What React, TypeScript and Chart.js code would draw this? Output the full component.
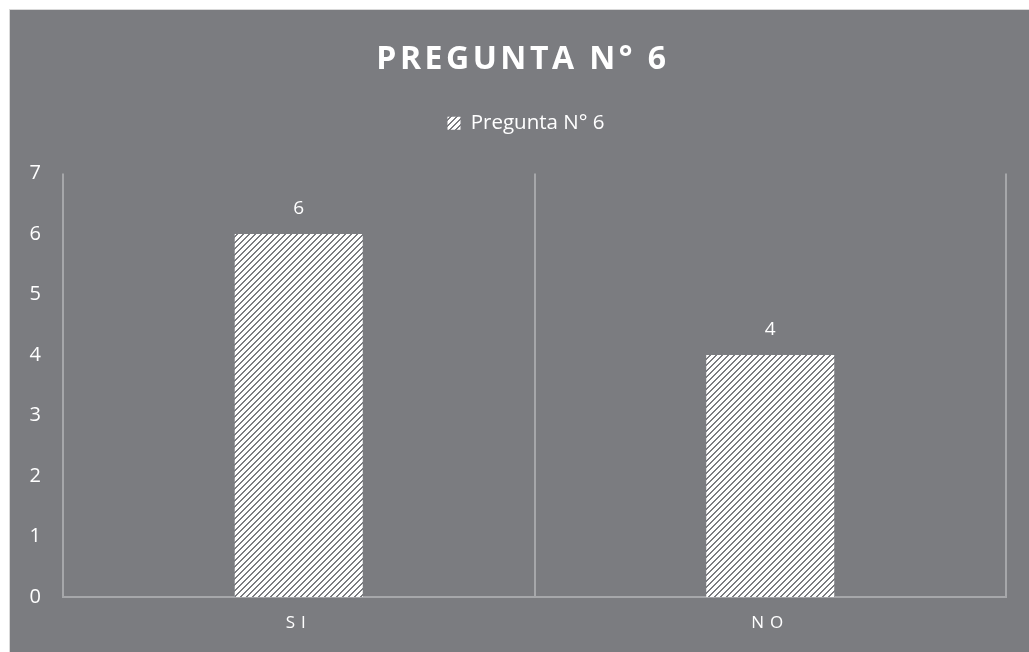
import React, { useEffect, useRef } from "react";
import { Chart, registerables } from "chart.js";

Chart.register(...registerables);

const TITLE = "PREGUNTA N° 6";
const SERIES_LABEL = "Pregunta N° 6";
const CATEGORIES = ["SI", "NO"];
const VALUES = [6, 4];
const Y_TICKS = [0, 1, 2, 3, 4, 5, 6, 7];

const BG = "#7b7c80";
const GRID = "#a6a7aa";
const FONT = "'Open Sans', sans-serif";
const W = 1019;
const H = 642;

function makePattern(ctx: CanvasRenderingContext2D) {
  const c = document.createElement("canvas");
  c.width = 6;
  c.height = 6;
  const p = c.getContext("2d")!;
  const img = p.createImageData(6, 6);
  for (let y = 0; y < 6; y++) {
    for (let x = 0; x < 6; x++) {
      const i = (y * 6 + x) * 4;
      const dark = (x + y) % 6 < 2;
      img.data[i] = dark ? 123 : 255;
      img.data[i + 1] = dark ? 124 : 255;
      img.data[i + 2] = dark ? 128 : 255;
      img.data[i + 3] = 255;
    }
  }
  p.putImageData(img, 0, 0);
  return ctx.createPattern(c, "repeat")!;
}

const spacingPlugin = {
  id: "spacing",
  beforeLayout(chart: any) {
    const lg = chart.legend;
    if (lg && !lg.__wrapped) {
      const f = lg.fit.bind(lg);
      lg.fit = function () {
        f();
        this.height += 30;
      };
      lg.__wrapped = true;
    }
  },
  beforeDraw(chart: any) {
    const tb = chart.titleBlock;
    if (tb && !tb.__wrapped) {
      const d = tb.draw.bind(tb);
      tb.draw = function (area: any) {
        const ctx = chart.ctx;
        ctx.save();
        (ctx as any).letterSpacing = "3.5px";
        ctx.translate(15, 0);
        d(area);
        ctx.restore();
      };
      tb.__wrapped = true;
    }
    const lg = chart.legend;
    if (lg && !lg.__drawWrapped) {
      const ld = lg.draw.bind(lg);
      lg.draw = function (area: any) {
        const ctx = chart.ctx;
        ctx.save();
        ctx.translate(18, 0);
        ld(area);
        ctx.restore();
      };
      lg.__drawWrapped = true;
    }
    const xs = chart.scales.x;
    if (xs && !xs.__wrapped) {
      const dl = xs.drawLabels.bind(xs);
      xs.drawLabels = function (area: any) {
        const ctx = chart.ctx;
        ctx.save();
        (ctx as any).letterSpacing = "6px";
        dl(area);
        ctx.restore();
      };
      xs.__wrapped = true;
    }
  },
};

const valueLabels = {
  id: "valueLabels",
  afterDatasetsDraw(chart: any) {
    const ctx = chart.ctx;
    const meta = chart.getDatasetMeta(0);
    ctx.save();
    ctx.font = `19px ${FONT}`;
    ctx.fillStyle = "#ffffff";
    ctx.textAlign = "center";
    ctx.textBaseline = "middle";
    meta.data.forEach((el: any, i: number) => {
      ctx.fillText(String(VALUES[i]), el.x, el.y - 25);
    });
    ctx.restore();
  },
};

export default function App() {
  const ref = useRef<HTMLCanvasElement>(null);
  useEffect(() => {
    const canvas = ref.current!;
    const ctx = canvas.getContext("2d")!;
    const pattern = makePattern(ctx);
    Chart.defaults.font.family = FONT;
    const chart = new Chart(canvas, {
      type: "bar",
      data: {
        labels: CATEGORIES,
        datasets: [
          {
            label: SERIES_LABEL,
            data: VALUES,
            backgroundColor: pattern as any,
            borderWidth: 0,
            categoryPercentage: 1,
            barPercentage: 0.2715,
          },
        ],
      },
      options: {
        responsive: false,
        animation: false,
        layout: { padding: { left: 0, right: 23, top: 0, bottom: 0 } },
        plugins: {
          title: {
            display: true,
            text: TITLE,
            color: "#ffffff",
            font: { size: 32, weight: "bold", family: FONT },
            padding: { top: 31, bottom: 23.6 },
          },
          legend: {
            display: true,
            position: "top",
            labels: {
              color: "#ffffff",
              font: { size: 20.5, family: FONT },
              boxWidth: 13,
              boxHeight: 13,
              padding: 10,
            },
          },
          tooltip: { enabled: false },
        },
        scales: {
          x: {
            grid: {
              display: true,
              color: GRID,
              lineWidth: 2,
              drawTicks: false,
              offset: true,
            },
            border: { display: true, color: GRID, width: 2 },
            ticks: {
              color: "#ffffff",
              font: { size: 17, family: FONT },
              padding: 16,
            },
            afterFit(scale: any) {
              scale.height = 55;
            },
          },
          y: {
            min: Y_TICKS[0],
            max: Y_TICKS[Y_TICKS.length - 1],
            grid: { display: false, drawTicks: false },
            border: { display: false },
            ticks: {
              stepSize: 1,
              color: "#ffffff",
              font: { size: 20, family: FONT },
              padding: 22,
            },
            afterFit(scale: any) {
              scale.width = 53;
            },
          },
        },
      },
      plugins: [spacingPlugin, valueLabels],
    });
    return () => chart.destroy();
  }, []);

  return (
    <div
      style={{
        position: "absolute",
        left: 9,
        top: 9,
        width: W,
        height: H,
        background: BG,
        borderTop: "1px solid #d9d9d9",
        borderLeft: "1px solid #d9d9d9",
      }}
    >
      <canvas ref={ref} width={W} height={H} style={{ display: "block", width: W, height: H }} />
    </div>
  );
}
